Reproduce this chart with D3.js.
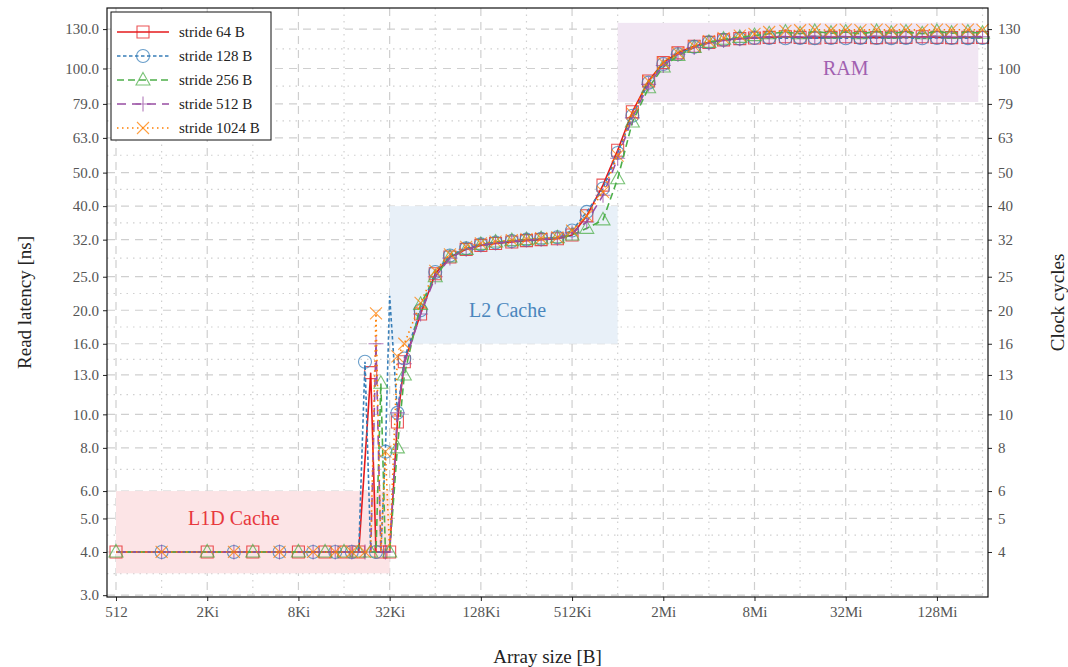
<!DOCTYPE html>
<html lang="en">
<head>
  <meta charset="UTF-8" />
  <title>Read latency vs array size</title>
  <script src="https://d3js.org/d3.v7.min.js"></script>
  <style>
    body {
      margin: 0;
      background: #fff;
    }
    svg text {
      font-family: "Liberation Serif", "DejaVu Serif", serif;
    }
  </style>
</head>
<body>
  <svg id="chart" width="1068" height="667"></svg>

  <script>
    // array sizes in KiB
    const sizesKiB = [
      0.5, 1, 2, 3, 4, 6, 8, 10, 12, 14, 16, 18, 20, 22, 24, 26, 28, 30, 32,
      36, 40, 51.2, 64, 80, 102.4, 128, 160, 204.8, 256, 320, 409.6, 512,
      640, 819.2, 1024, 1280, 1638.4, 2048, 2560, 3276.8, 4096, 5120, 6553.6,
      8192, 10240, 13107.2, 16384, 20480, 26214.4, 32768, 40960, 52428.8,
      65536, 81920, 104857.6, 131072, 163840, 209715.2, 262144
    ];

    const stride64 = [
      4, 4, 4, 4, 4, 4, 4, 4, 4, 4, 4, 4, 4, 7.4, 13.2, 4, 4, 4, 4,
      9.5, 14.2, 19.5, 25.5, 28.5, 30, 30.8, 31.2, 31.5, 31.8, 32, 32.2, 33,
      37.5, 46, 58, 75, 92, 104, 111, 116, 119, 121, 122,
      122.5, 123, 123.5, 123, 122.5, 123, 123.5, 123, 122.8,
      123.2, 123, 123.5, 123, 122.8, 123, 123
    ];
    const stride128 = [
      4, 4, 4, 4, 4, 4, 4, 4, 4, 4, 4, 4, 4, 14.2, 4, 4, 4, 7.8, 22,
      10.1, 14.5, 20, 25.8, 28.8, 30.2, 31, 31.4, 31.7, 32, 32.2, 32.5, 34,
      38.5, 45, 57, 73, 91, 103, 110, 115.5, 119, 121, 122,
      122.5, 122.5, 122.3, 122.6, 122.4, 122.5, 122.3, 122.6, 122.5,
      122.4, 122.6, 122.3, 122.5, 122.5, 122.4, 122.5
    ];
    const stride256 = [
      4, 4, 4, 4, 4, 4, 4, 4, 4, 4, 4, 4, 4, 4, 4, 4, 12.3, 4, 4,
      8, 13, 20.8, 25, 28.5, 30, 31, 31.5, 31.8, 32, 32.2, 32.4, 33,
      34.5, 36.5, 48, 70, 88, 101, 109, 115, 119, 121.5, 123,
      124.5, 126, 127.5, 126, 128, 126.5, 127.5, 126, 128,
      126.5, 127.5, 126, 128, 126.5, 127.5, 126.5
    ];
    const stride512 = [
      4, 4, 4, 4, 4, 4, 4, 4, 4, 4, 4, 4, 4, 4, 4, 16, 4, 4, 4,
      10.1, 14, 19.5, 25, 28.3, 30, 30.9, 31.3, 31.6, 31.9, 32.1, 32.3, 33.5,
      36, 43, 55, 72, 90, 102, 110, 115, 118.5, 120.5, 122,
      123, 123.5, 123.8, 123.5, 124, 123.6, 123.8, 123.5, 124,
      123.6, 123.8, 123.5, 123.9, 123.6, 123.8, 123.6
    ];
    const stride1024 = [
      4, 4, 4, 4, 4, 4, 4, 4, 4, 4, 4, 4, 4, 4, 4, 19.6, 4, 7.8, 4,
      14.7, 16, 21, 26, 29, 30.5, 31.2, 31.6, 31.9, 32.1, 32.3, 32.5, 34,
      37.5, 44, 56, 74, 92, 104, 111, 116, 120, 122.5, 124.5,
      126, 127.5, 128.5, 129, 129.5, 129, 129.5, 129.2, 129.5,
      129.2, 129.5, 129.2, 129.5, 129.3, 129.5, 129.3
    ];

    const seriesNames = ["stride 64 B", "stride 128 B", "stride 256 B", "stride 512 B", "stride 1024 B"];
    const seriesValues = [stride64, stride128, stride256, stride512, stride1024];
    const seriesColors = ["#e41a1c", "#377eb8", "#4daf4a", "#984ea3", "#ff7f00"];
    const seriesDash = [null, "3.5,2.5", "7,4", "9,6", "1.5,3.5"];
    const seriesMarker = ["square", "circle", "triangle", "plus", "cross"];
    const markerOffset = [0, 1, 0, 1, 1];

    const latencyTicks = [3, 4, 5, 6, 8, 10, 13, 16, 20, 25, 32, 40, 50, 63, 79, 100, 130];
    const cycleTicks = [4, 5, 6, 8, 10, 13, 16, 20, 25, 32, 40, 50, 63, 79, 100, 130];
    const sizeTicks = [512, 2048, 8192, 32768, 131072, 524288, 2097152, 8388608, 33554432, 134217728];
    const sizeTickLabels = ["512", "2Ki", "8Ki", "32Ki", "128Ki", "512Ki", "2Mi", "8Mi", "32Mi", "128Mi"];

    const regionNames = ["L1D Cache", "L2 Cache", "RAM"];
    const regionX = [[512, 32768], [32768, 1048576], [1048576, 251658240]];
    const regionY = [[3.47, 6], [16, 40], [80, 135.5]];
    const regionLabelPos = [[3072, 5], [196608, 20], [33554432, 100]];
    const regionFill = ["#fce4e6", "#e8f0f8", "#f1e6f3"];
    const regionText = ["#e8383d", "#4a86bd", "#a160b0"];

    const svg = d3.select("#chart");
    const plot = { left: 107, right: 988, top: 8, bottom: 597 };

    const x = d3.scaleLog().base(2)
      .domain([446.5, Math.pow(2, 28.12)])
      .range([plot.left, plot.right]);
    const y = d3.scaleLog()
      .domain([2.964, 149.6])
      .range([plot.bottom, plot.top]);

    // --- grid ---
    const grid = svg.append("g");
    const minorY = latencyTicks.slice(1).map((t, i) => Math.sqrt(t * latencyTicks[i]));
    const minorX = [1024, 4096, 16384, 65536, 262144, 1048576, 4194304, 16777216, 67108864, 268435456];

    grid.selectAll(".gy-minor").data(minorY).enter().append("line")
      .attr("x1", plot.left).attr("x2", plot.right)
      .attr("y1", d => y(d)).attr("y2", d => y(d))
      .attr("stroke", "#d0d0d0").attr("stroke-width", 1.2).attr("stroke-dasharray", "1.5,5");
    grid.selectAll(".gx-minor").data(minorX).enter().append("line")
      .attr("x1", d => x(d)).attr("x2", d => x(d))
      .attr("y1", plot.top).attr("y2", plot.bottom)
      .attr("stroke", "#d0d0d0").attr("stroke-width", 1.2).attr("stroke-dasharray", "1.5,5");

    // shaded regions
    const regions = svg.append("g");
    regionNames.forEach((name, i) => {
      regions.append("rect")
        .attr("x", x(regionX[i][0]))
        .attr("width", x(regionX[i][1]) - x(regionX[i][0]))
        .attr("y", y(regionY[i][1]))
        .attr("height", y(regionY[i][0]) - y(regionY[i][1]))
        .attr("fill", regionFill[i]);
    });

    grid.raise();
    grid.selectAll(".gy").data(latencyTicks).enter().append("line")
      .attr("x1", plot.left).attr("x2", plot.right)
      .attr("y1", d => y(d)).attr("y2", d => y(d))
      .attr("stroke", "#cfcfcf").attr("stroke-width", 1.2).attr("stroke-dasharray", "8,6");
    grid.selectAll(".gx").data(sizeTicks).enter().append("line")
      .attr("x1", d => x(d)).attr("x2", d => x(d))
      .attr("y1", plot.top).attr("y2", plot.bottom)
      .attr("stroke", "#cfcfcf").attr("stroke-width", 1.2).attr("stroke-dasharray", "8,6");

    regionNames.forEach((name, i) => {
      regions.append("text")
        .attr("x", x(regionLabelPos[i][0]))
        .attr("y", y(regionLabelPos[i][1]))
        .attr("dy", "0.35em")
        .attr("text-anchor", "middle")
        .attr("font-size", 20)
        .attr("fill", regionText[i])
        .text(name);
    });
    regions.raise();

    // --- series ---
    function markerPath(kind) {
      if (kind === "square") return "M-6,-6H6V6H-6Z";
      if (kind === "circle") return "M6.5,0A6.5,6.5 0 1,1 -6.5,0A6.5,6.5 0 1,1 6.5,0Z";
      if (kind === "triangle") return "M0,-7.5L7,5H-7Z";
      if (kind === "plus") return "M-7.5,0H7.5M0,-7.5V7.5";
      return "M-6,-6L6,6M-6,6L6,-6";
    }

    const line = d3.line()
      .x(d => x(d.size))
      .y(d => y(d.value));

    const seriesG = svg.append("g");
    seriesValues.forEach((vals, s) => {
      const pts = vals.map((v, i) => ({ size: sizesKiB[i] * 1024, value: v, i }));
      seriesG.append("path")
        .datum(pts)
        .attr("d", line)
        .attr("fill", "none")
        .attr("stroke", seriesColors[s])
        .attr("stroke-width", 1.6)
        .attr("stroke-dasharray", seriesDash[s]);
      seriesG.selectAll(null)
        .data(pts.filter(p => p.i > 18 || (p.i + markerOffset[s]) % 2 === 0))
        .enter().append("path")
        .attr("transform", p => `translate(${x(p.size)},${y(p.value)})`)
        .attr("d", markerPath(seriesMarker[s]))
        .attr("fill", "none")
        .attr("stroke", seriesColors[s])
        .attr("stroke-opacity", 0.75)
        .attr("stroke-width", 1.1);
    });

    // --- axes ---
    const axisG = svg.append("g").attr("font-size", 14).attr("fill", "#555");

    const leftAxis = svg.append("g")
      .attr("transform", `translate(${plot.left},0)`)
      .call(d3.axisLeft(y).tickValues(latencyTicks).tickFormat(d3.format(".1f")).tickSize(4).tickPadding(4));
    const rightAxis = svg.append("g")
      .attr("transform", `translate(${plot.right},0)`)
      .call(d3.axisRight(y).tickValues(cycleTicks).tickFormat(d3.format("d")).tickSize(4).tickPadding(6));
    const bottomAxis = svg.append("g")
      .attr("transform", `translate(0,${plot.bottom})`)
      .call(d3.axisBottom(x).tickValues(sizeTicks).tickFormat((d, i) => sizeTickLabels[i]).tickSize(4).tickPadding(5));

    [leftAxis, rightAxis, bottomAxis].forEach(a => {
      a.select(".domain").remove();
      a.selectAll("line").attr("stroke", "#222");
      a.selectAll("text")
        .attr("font-family", "'Liberation Serif', serif")
        .attr("font-size", 15)
        .attr("fill", "#555");
    });

    svg.append("rect")
      .attr("x", plot.left).attr("y", plot.top)
      .attr("width", plot.right - plot.left).attr("height", plot.bottom - plot.top)
      .attr("fill", "none").attr("stroke", "#111").attr("stroke-width", 1.2);

    // axis titles
    svg.append("text")
      .attr("transform", `translate(24,${(plot.top + plot.bottom) / 2}) rotate(-90)`)
      .attr("text-anchor", "middle").attr("dy", "0.35em")
      .attr("font-size", 19).attr("fill", "#222")
      .text("Read latency [ns]");
    svg.append("text")
      .attr("transform", `translate(1057,${(plot.top + plot.bottom) / 2}) rotate(-90)`)
      .attr("text-anchor", "middle").attr("dy", "0.35em")
      .attr("font-size", 19).attr("fill", "#222")
      .text("Clock cycles");
    svg.append("text")
      .attr("x", (plot.left + plot.right) / 2).attr("y", 656)
      .attr("text-anchor", "middle").attr("dy", "0.35em")
      .attr("font-size", 19).attr("fill", "#222")
      .text("Array size [B]");

    // --- legend ---
    const legend = svg.append("g").attr("transform", "translate(111,12)");
    legend.append("rect")
      .attr("width", 160).attr("height", 128)
      .attr("fill", "#fff").attr("stroke", "#111").attr("stroke-width", 1);
    seriesNames.forEach((name, s) => {
      const row = legend.append("g").attr("transform", `translate(0,${20 + s * 24})`);
      row.append("line")
        .attr("x1", 6).attr("x2", 58)
        .attr("stroke", seriesColors[s]).attr("stroke-width", 1.6)
        .attr("stroke-dasharray", seriesDash[s]);
      row.append("path")
        .attr("transform", "translate(32,0)")
        .attr("d", markerPath(seriesMarker[s]))
        .attr("fill", "none").attr("stroke", seriesColors[s])
        .attr("stroke-opacity", 0.75).attr("stroke-width", 1.1);
      row.append("text")
        .attr("x", 68).attr("dy", "0.35em")
        .attr("font-size", 15).attr("fill", "#222")
        .text(name);
    });
  </script>
</body>
</html>
